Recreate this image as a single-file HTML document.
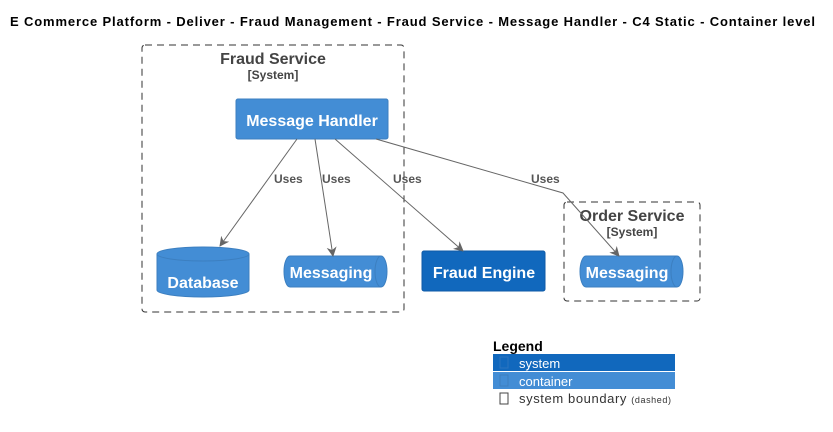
<!DOCTYPE html>
<html><head><meta charset="utf-8"><style>
html,body{margin:0;padding:0;background:#fff;width:833px;height:432px;overflow:hidden}
text{font-family:"Liberation Sans",Arial,sans-serif}
</style></head><body>
<svg width="833" height="432" viewBox="0 0 833 432" xmlns="http://www.w3.org/2000/svg">
<defs><marker id="a" markerWidth="10" markerHeight="10" refX="9" refY="5" orient="auto" markerUnits="userSpaceOnUse"><path d="M0,0 L10,5 L0,10 L3,5 Z" fill="#666"/></marker></defs>
<text x="10" y="26" font-size="13" font-weight="bold" fill="#000" textLength="805" lengthAdjust="spacing">E Commerce Platform - Deliver - Fraud Management - Fraud Service - Message Handler - C4 Static - Container level</text>
<rect x="142" y="45" width="262" height="267" rx="3" fill="none" stroke="#333" stroke-dasharray="7,5"/>
<text x="273" y="64" font-size="16" font-weight="bold" fill="#444" text-anchor="middle">Fraud Service</text>
<text x="273" y="79" font-size="12" font-weight="bold" fill="#444" text-anchor="middle">[System]</text>
<rect x="564" y="202" width="136" height="99" rx="3" fill="none" stroke="#333" stroke-dasharray="7,5"/>
<text x="632" y="221" font-size="16" font-weight="bold" fill="#444" text-anchor="middle">Order Service</text>
<text x="632" y="236" font-size="12" font-weight="bold" fill="#444" text-anchor="middle">[System]</text>
<rect x="236" y="99" width="152" height="40" rx="2" fill="#438DD5" stroke="#3C7FC0"/>
<text x="312" y="126" font-size="16" font-weight="bold" fill="#fff" text-anchor="middle">Message Handler</text>
<path d="M157,254 A46,7 0 0 1 249,254 L249,290 A46,7 0 0 1 157,290 Z" fill="#438DD5" stroke="#3C7FC0"/>
<path d="M157,254 A46,7 0 0 0 249,254" fill="none" stroke="#3C7FC0"/>
<text x="203" y="288" font-size="16" font-weight="bold" fill="#fff" text-anchor="middle">Database</text>
<path d="M290,256 L381,256 A6,15.5 0 0 1 381,287 L290,287 A6,15.5 0 0 1 290,256 Z" fill="#438DD5" stroke="#3C7FC0"/>
<path d="M381,256 A6,15.5 0 0 0 381,287" fill="none" stroke="#3C7FC0"/>
<text x="331" y="278" font-size="16" font-weight="bold" fill="#fff" text-anchor="middle">Messaging</text>
<path d="M586,256 L677,256 A6,15.5 0 0 1 677,287 L586,287 A6,15.5 0 0 1 586,256 Z" fill="#438DD5" stroke="#3C7FC0"/>
<path d="M677,256 A6,15.5 0 0 0 677,287" fill="none" stroke="#3C7FC0"/>
<text x="627" y="278" font-size="16" font-weight="bold" fill="#fff" text-anchor="middle">Messaging</text>
<rect x="422" y="251" width="123" height="40" rx="2" fill="#1168BD" stroke="#0E5AA7"/>
<text x="484" y="278" font-size="16" font-weight="bold" fill="#fff" text-anchor="middle">Fraud Engine</text>
<g stroke="#666" fill="none" stroke-width="1">
<line x1="297" y1="139" x2="220" y2="246" marker-end="url(#a)"/>
<line x1="315" y1="139" x2="333" y2="256" marker-end="url(#a)"/>
<line x1="335" y1="139" x2="463" y2="251" marker-end="url(#a)"/>
<polyline points="376,139 563,193 619,256" marker-end="url(#a)"/>
</g>
<g font-size="12" font-weight="bold" fill="#555">
<text x="274" y="183">Uses</text><text x="322" y="183">Uses</text><text x="393" y="183">Uses</text><text x="531" y="183">Uses</text>
</g>
<text x="493" y="351" font-size="14" font-weight="bold" fill="#000">Legend</text>
<rect x="493" y="354" width="182" height="17" fill="#1168BD"/>
<rect x="493" y="372" width="182" height="17" fill="#438DD5"/>
<rect x="500" y="357" width="8" height="11" fill="none" stroke="#2a74c0"/>
<rect x="500" y="375" width="8" height="11" fill="none" stroke="#3C7FC0"/>
<rect x="500" y="393" width="8" height="11" fill="none" stroke="#444"/>
<text x="519" y="368" font-size="13" fill="#fff">system</text>
<text x="519" y="386" font-size="13" fill="#fff">container</text>
<text x="519" y="403" font-size="13" fill="#333" textLength="152" lengthAdjust="spacing">system boundary <tspan font-size="9">(dashed)</tspan></text>
</svg>
</body></html>
